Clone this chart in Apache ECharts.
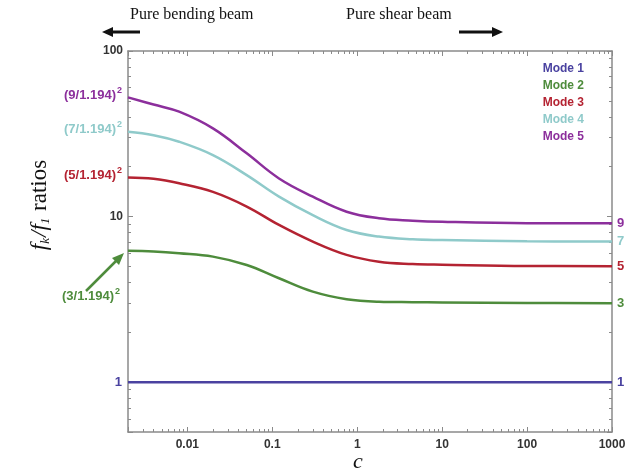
<!DOCTYPE html>
<html>
<head>
<meta charset="utf-8">
<script src="https://cdn.jsdelivr.net/npm/echarts@6/dist/echarts.min.js"></script>
<style>
  html, body { margin: 0; padding: 0; background: #fff; }
  #main { width: 641px; height: 473px; }
</style>
</head>
<body>
<div id="main"></div>
<script>
// values
var cValues = [0.002, 0.004, 0.008, 0.02, 0.05, 0.12, 0.3, 0.75, 1.8, 4.5, 10, 100, 1000];
var mode1 = [1, 1, 1, 1, 1, 1, 1, 1, 1, 1, 1, 1, 1];
var mode2 = [6.22, 6.16, 6.01, 5.73, 5.10, 4.24, 3.52, 3.17, 3.06, 3.04, 3.03, 3.01, 3.0];
var mode3 = [17.2, 16.9, 15.9, 14.1, 11.5, 8.9, 7.06, 5.87, 5.34, 5.17, 5.12, 5.03, 5.02];
var mode4 = [32.5, 31.0, 28.3, 23.5, 17.8, 13.2, 10.2, 8.3, 7.57, 7.29, 7.22, 7.1, 7.07];
var mode5 = [52.5, 47.5, 43.0, 34.1, 24.1, 17.0, 13.2, 10.7, 9.77, 9.45, 9.3, 9.12, 9.1];

var modeNames = ['Mode 1', 'Mode 2', 'Mode 3', 'Mode 4', 'Mode 5'];
var modeColors = ['#4a42a0', '#4e8c3c', '#b42332', '#8fcaca', '#8c2f9c'];
var endLabels = ['1', '3', '5', '7', '9'];
var startLabels = ['1', '3/1.194', '5/1.194', '7/1.194', '9/1.194'];

var myChart = echarts.init(document.getElementById('main'));

var sansFont = 'Liberation Sans, Arial, sans-serif';
var axisGray = '#8a8a8a';

function makeSeries(i, values) {
  var pts = cValues.map(function (c, j) { return [c, values[j]]; });
  var fmt = i === 0 ? '{b|1}' : '{b|(' + startLabels[i] + ')}{sup|2}';
  var off = i === 1 ? [-2, 46] : (i === 0 ? [0, 0] : [0, -2]);
  return {
    name: modeNames[i],
    type: 'line',
    data: pts,
    smooth: 0.4,
    showSymbol: false,
    lineStyle: { color: modeColors[i], width: 2.5 },
    itemStyle: { color: modeColors[i] },
    endLabel: {
      show: true,
      formatter: endLabels[i],
      color: modeColors[i],
      fontSize: 13,
      distance: 5,
      fontFamily: sansFont,
      fontWeight: 'bold'
    },
    // label at the left end of each curve
    markPoint: {
      symbol: 'circle',
      symbolSize: 0,
      silent: true,
      data: [{ coord: [cValues[0], values[0]] }],
      label: {
        show: true,
        position: 'left',
        distance: 6,
        offset: off,
        formatter: fmt,
        rich: {
          b: { color: modeColors[i], fontSize: 13, fontWeight: 'bold', fontFamily: sansFont },
          sup: { color: modeColors[i], fontSize: 9, fontWeight: 'bold', fontFamily: sansFont, padding: [0, 0, 10, 1] }
        }
      }
    }
  };
}

var seriesValues = [mode1, mode2, mode3, mode4, mode5];

var option = {
  animation: false,
  backgroundColor: '#fff',
  grid: { left: 128, right: 29, top: 51, bottom: 41 },
  legend: {
    orient: 'vertical',
    right: 52,
    top: 58,
    icon: 'none',
    itemWidth: 0,
    itemHeight: 10,
    itemGap: 5,
    selectedMode: false,
    data: modeNames.map(function (n, i) {
      return { name: n, textStyle: { color: modeColors[i], fontSize: 12, fontWeight: 'bold', fontFamily: sansFont } };
    })
  },
  xAxis: [
    {
      type: 'log',
      min: 0.002,
      max: 1000,
      axisLine: { lineStyle: { color: axisGray, width: 1.5 } },
      axisTick: { inside: true, length: 5, lineStyle: { color: axisGray } },
      minorTick: { show: true, splitNumber: 9, length: 3, lineStyle: { color: axisGray } },
      splitLine: { show: false },
      axisLabel: {
        showMinLabel: false,
        color: '#333',
        fontSize: 12,
        fontWeight: 'bold',
        fontFamily: sansFont,
        margin: 7,
        formatter: function (v) { return String(v); }
      }
    },
    {
      type: 'log',
      position: 'top',
      min: 0.002,
      max: 1000,
      axisLine: { lineStyle: { color: axisGray, width: 1.5 } },
      axisTick: { inside: true, length: 5, lineStyle: { color: axisGray } },
      minorTick: { show: true, splitNumber: 9, length: 3, lineStyle: { color: axisGray } },
      splitLine: { show: false },
      axisLabel: { show: false }
    }
  ],
  yAxis: [
    {
      type: 'log',
      min: 0.5,
      max: 100,
      axisLine: { show: true, lineStyle: { color: axisGray, width: 1.5 } },
      axisTick: { show: true, inside: true, length: 5, lineStyle: { color: axisGray } },
      minorTick: { show: true, splitNumber: 9, length: 3, lineStyle: { color: axisGray } },
      splitLine: { show: false },
      axisLabel: {
        color: '#333',
        fontSize: 12,
        fontWeight: 'bold',
        fontFamily: sansFont,
        margin: 5,
        formatter: function (v) { return v >= 10 ? String(v) : ''; }
      }
    },
    {
      type: 'log',
      position: 'right',
      min: 0.5,
      max: 100,
      axisLine: { show: true, lineStyle: { color: axisGray, width: 1.5 } },
      axisTick: { show: true, inside: true, length: 5, lineStyle: { color: axisGray } },
      minorTick: { show: true, splitNumber: 9, length: 3, lineStyle: { color: axisGray } },
      splitLine: { show: false },
      axisLabel: { show: false }
    }
  ],
  graphic: [
    // top captions with arrows
    { type: 'text', left: 130, top: 7, style: { text: 'Pure bending beam', font: '16px "Liberation Serif", serif', fill: '#111' } },
    { type: 'text', left: 346, top: 7, style: { text: 'Pure shear beam', font: '16px "Liberation Serif", serif', fill: '#111' } },
    { type: 'line', shape: { x1: 140, y1: 32, x2: 110, y2: 32 }, style: { stroke: '#111', lineWidth: 3 } },
    { type: 'polygon', shape: { points: [[102, 32], [113, 27], [113, 37]] }, style: { fill: '#111' } },
    { type: 'line', shape: { x1: 459, y1: 32, x2: 494, y2: 32 }, style: { stroke: '#111', lineWidth: 3 } },
    { type: 'polygon', shape: { points: [[503, 32], [492, 27], [492, 37]] }, style: { fill: '#111' } },
    // arrow pointing at the start of mode 2
    { type: 'line', shape: { x1: 86, y1: 291, x2: 118, y2: 259 }, style: { stroke: modeColors[1], lineWidth: 2.5 } },
    { type: 'polygon', shape: { points: [[124, 253], [112, 258], [119, 265]] }, style: { fill: modeColors[1] } },
    // axis titles
    {
      type: 'text', x: 40, y: 205, rotation: Math.PI / 2,
      style: {
        text: '{i|f}{s|k}{i|/f}{s|1}{r| ratios}',
        align: 'center', verticalAlign: 'middle',
        rich: {
          i: { fontSize: 23, fontStyle: 'italic', fontFamily: 'Liberation Serif, serif', fill: '#111' },
          s: { fontSize: 13, fontStyle: 'italic', fontFamily: 'Liberation Serif, serif', fill: '#111', padding: [11, 1, 0, 0] },
          r: { fontSize: 23, fontFamily: 'Liberation Serif, serif', fill: '#111' }
        }
      }
    },
    {
      type: 'text', x: 358, y: 462,
      style: { text: 'c', align: 'center', verticalAlign: 'middle', font: 'italic 22px "Liberation Serif", serif', fill: '#111' }
    }
  ],
  series: seriesValues.map(function (v, i) { return makeSeries(i, v); })
};

myChart.setOption(option);
</script>
</body>
</html>
